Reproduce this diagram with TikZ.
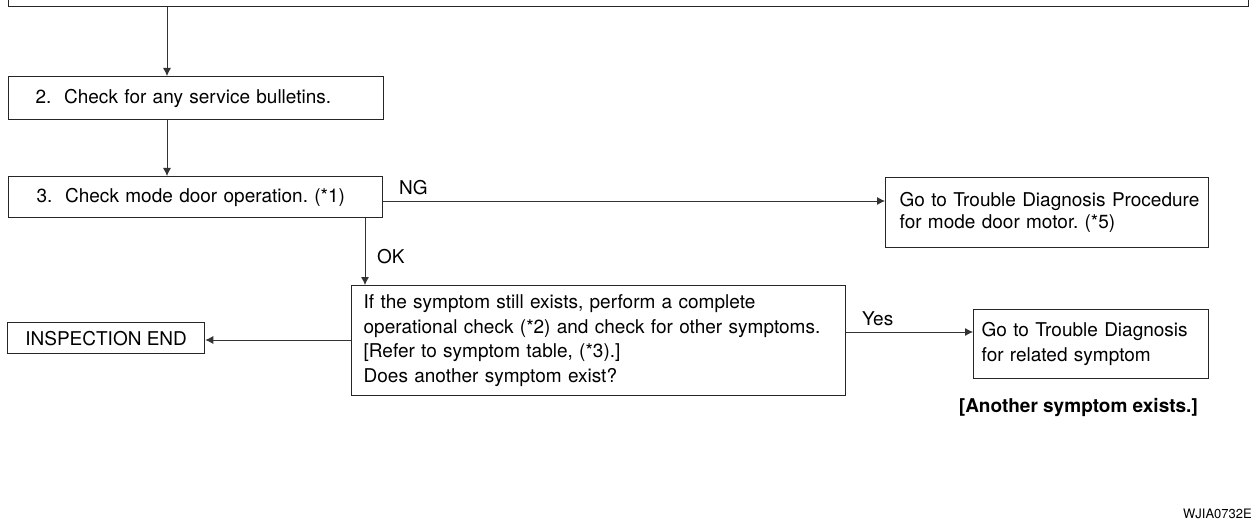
\documentclass[tikz,border=0pt]{standalone}
\usepackage{fontspec}
\setmainfont{TeX Gyre Heros}
\usetikzlibrary{arrows.meta}
\frenchspacing

\tikzset{
  box/.style={draw=black!85, line width=1.3pt, anchor=north west, inner ysep=0pt,
              align=left, font=\fontsize{19}{24.7}\selectfont},
  link/.style={draw=black!80, line width=0.8pt, -{Latex[length=8pt,width=8pt]}},
  lbl/.style={anchor=west, inner sep=0pt, font=\fontsize{19}{23}\selectfont},
}

\begin{document}
\begin{tikzpicture}[x=1pt, y=-1pt]
  \clip (0,0) rectangle (1257,529);

  % previous step (continues above the page)
  \node[draw=black!85, line width=1.3pt, anchor=south west, inner sep=0pt,
        minimum width=1240pt, minimum height=40pt] (top) at (8,7) {};

  % steps
  \node[box, inner xsep=27pt, text width=321pt, minimum height=43pt] (b2) at (8,76)
    {2.\ \ Check for any service bulletins.};
  \node[box, inner xsep=28pt, text width=318pt, minimum height=41pt] (b3) at (8,176)
    {3.\ \ Check mode door operation. (*1)};
  \node[box, inner xsep=14pt, text width=295pt, minimum height=70pt,
        font=\fontsize{19}{22}\selectfont] (ng) at (885,177)
    {\mbox{Go to Trouble Diagnosis Procedure}\\\mbox{for mode door motor. (*5)}};
  \node[box, inner xsep=12pt, text width=470pt, minimum height=110pt] (chk) at (351,285)
    {If the symptom still exists, perform a complete\\
     operational check (*2) and check for other symptoms.\\
     {[Refer to symptom table, (*3).]}\\
     Does another symptom exist?};
  \node[box, inner xsep=8pt, text width=219pt, minimum height=69pt,
        font=\fontsize{19}{25}\selectfont] (yes) at (973,309)
    {Go to Trouble Diagnosis\\for related symptom};
  \node[box, align=center, inner xsep=0pt, minimum width=197pt, minimum height=31pt] (end) at (7,322)
    {INSPECTION END};

  % routing guides
  \coordinate (colA) at (167,0);
  \coordinate (colB) at (365,0);
  \coordinate (rowNG) at (0,201);
  \coordinate (rowYes) at (0,332);
  \coordinate (rowEnd) at (0,340);

  % connectors
  \draw[link] (colA |- top.south) -- (colA |- b2.north);
  \draw[link] (colA |- b2.south) -- (colA |- b3.north);
  \draw[link] (b3.east |- rowNG) -- (ng.west |- rowNG);
  \draw[link] (colB |- b3.south) -- (colB |- chk.north);
  \draw[link] (chk.east |- rowYes) -- (yes.west |- rowYes);
  \draw[link] (chk.west |- rowEnd) -- (end.east |- rowEnd);

  % labels
  \node[lbl] (ngl) at (399,188) {NG};
  \node[lbl] (okl) at (377,257) {OK};
  \node[lbl] (yesl) at (862,319) {Yes};
  \node[anchor=east, inner sep=0pt, font=\bfseries\fontsize{19}{23}\selectfont] (note) at (1198,408)
    {[Another symptom exists.]};
  \node[anchor=east, inner sep=0pt, font=\fontsize{13}{15}\selectfont] (code) at (1252,514)
    {WJIA0732E};
\end{tikzpicture}
\end{document}
